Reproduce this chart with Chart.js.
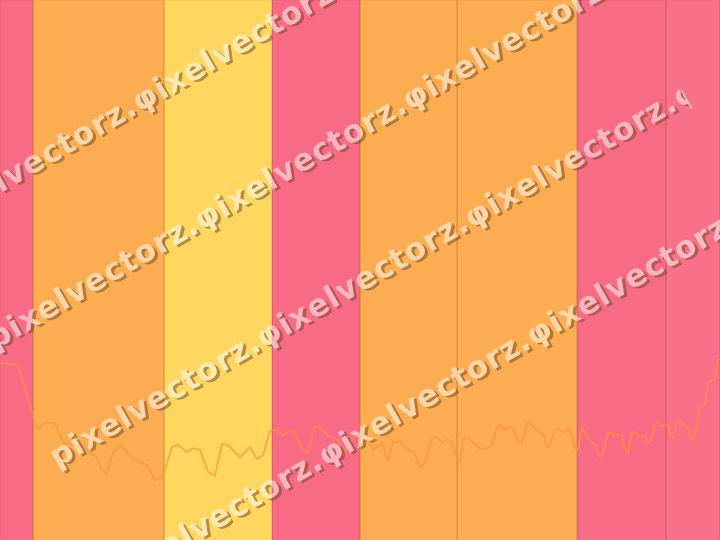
<!DOCTYPE html>
<html>
<head>
<meta charset="utf-8">
<script src="https://cdn.jsdelivr.net/npm/chart.js@4"></script>
<style>
  html, body { margin: 0; padding: 0; background: #fff; }
  canvas { display: block; }
</style>
</head>
<body>
<canvas id="chart" width="720" height="540"></canvas>
<script>
// day index of each sample and the value on that day
const days = [0, 3.5, 9, 18.5, 22.5, 27.5, 31.5, 36, 41.5, 48.5, 50.5, 53.5, 56.5, 60.5, 65.5, 70, 73.5, 77.5, 81.5, 86,
  89, 93.5, 96.5, 100, 104, 107.5, 111, 114, 117.5, 120, 125, 128.5, 131.5, 135, 137.5, 141.5, 145, 147.5, 151, 154,
  157, 159.5, 163.5, 166.5, 169, 171.5, 177.5, 180, 183.5, 186.5, 191, 194, 196.5, 200, 203.5, 207, 210, 212.5, 216, 218.5,
  221, 223.5, 226, 228.5, 230, 231.5, 234, 236.5, 240, 243.5, 246, 248.5, 250, 252.5, 255, 256.5, 259, 261, 263.5, 265,
  267.5, 269, 271.5, 273.5, 275, 277.5, 279, 281.5, 283.5, 285.5, 287.5, 289, 291, 293.5, 296, 297.5, 300, 301.5, 304, 306,
  307.5, 309, 311, 312.5, 314, 316, 317.5, 320, 322.5, 324, 326, 327.5, 329, 331, 332.5, 334, 335.5, 336.5, 338.5, 340,
  342.5, 344, 346, 347.5, 350, 352.5, 354, 356, 357.5, 358.5, 360];
const values = [32.8, 32.6, 32.4, 20.6, 21.7, 21.7, 18.0, 17.6, 17.4, 15.2, 13.3, 12.2, 16.3, 17.6, 15.4, 14.4, 13.9, 11.1, 11.9, 17.2,
  17.6, 16.3, 17.0, 16.7, 12.6, 11.9, 17.8, 17.6, 16.3, 15.4, 17.2, 15.0, 15.7, 20.2, 20.4, 19.3, 20.2, 19.8, 17.0, 16.1,
  20.9, 21.1, 19.4, 18.9, 18.7, 15.6, 19.6, 20.0, 19.1, 16.7, 18.0, 14.8, 18.1, 18.3, 16.7, 16.3, 13.5, 14.3, 18.9, 19.1,
  18.0, 18.7, 18.1, 15.2, 14.3, 18.5, 19.1, 18.0, 16.9, 17.0, 17.6, 20.9, 21.3, 20.4, 20.9, 20.7, 18.1, 18.0, 21.7, 21.9,
  20.7, 20.0, 19.8, 17.2, 17.6, 20.4, 20.7, 19.8, 20.6, 20.0, 17.0, 16.7, 20.9, 19.1, 18.1, 17.6, 15.4, 16.1, 19.8, 19.8,
  19.1, 19.6, 19.3, 16.7, 16.1, 19.8, 20.0, 18.9, 19.4, 18.1, 18.7, 21.7, 21.7, 20.9, 21.5, 21.3, 19.4, 18.9, 22.0, 22.2,
  20.9, 20.7, 18.5, 19.1, 24.8, 25.2, 29.1, 29.6, 29.6, 33.3, 33.5];

// shaded periods behind the series
const bandStart = [0, 16.5, 82, 136, 180, 228.5, 288.5, 333];
const bandEnd = [16.5, 82, 136, 180, 228.5, 288.5, 333, 360];
const bandRegime = ['high', 'mid', 'low', 'high', 'mid', 'mid', 'high', 'high2'];

const regimeColor = {
  high: '#f86b84',
  high2: '#f97188',
  mid: '#fdad51',
  low: '#fed660'
};

const bandSets = bandStart.map((s, i) => ({
  type: 'line',
  data: [{x: s, y: 0}, {x: s, y: 100}, {x: bandEnd[i], y: 100}, {x: bandEnd[i], y: 0}],
  backgroundColor: regimeColor[bandRegime[i]],
  borderColor: 'rgba(120, 60, 20, 0.1)',
  borderWidth: 1,
  pointRadius: 0,
  fill: 'origin',
  tension: 0,
  order: 2
}));

// repeated diagonal watermark, each row cut just after the third word
const watermark = {
  id: 'watermark',
  afterDraw(chart) {
    const ctx = chart.ctx;
    const off = document.createElement('canvas');
    off.width = chart.width;
    off.height = chart.height;
    const o = off.getContext('2d');
    const word = 'pixelvectorz.';
    const text = word + 'φixelvectorz.'.repeat(4);
    const ang = -30 * Math.PI / 180;
    o.font = 'bold 31px "DejaVu Sans"';
    o.letterSpacing = '1px';
    o.textBaseline = 'alphabetic';
    const cut = o.measureText(word + 'φixelvectorz.'.repeat(2)).width + o.measureText('φ').width * 0.45;
    for (let k = -2; k <= 1; k++) {
      const x0 = 57 + k * 62;
      const y0 = 468 + k * 118;
      o.save();
      o.translate(x0, y0);
      o.rotate(ang);
      o.beginPath();
      o.rect(-10, -60, cut + 10, 100);
      o.clip();
      o.fillStyle = 'rgb(110, 70, 30)';
      o.fillText(text, 2, 3);
      o.fillStyle = '#ffffff';
      o.fillText(text, 0, 0);
      o.restore();
    }
    ctx.save();
    ctx.globalAlpha = 0.5;
    ctx.drawImage(off, 0, 0);
    ctx.restore();
  }
};

new Chart(document.getElementById('chart'), {
  type: 'line',
  data: {
    datasets: [{
      data: days.map((d, i) => ({x: d, y: values[i]})),
      borderColor: 'rgba(255, 145, 60, 0.7)',
      borderWidth: 1.8,
      pointRadius: 0,
      fill: false,
      tension: 0,
      order: 0
    }, ...bandSets]
  },
  options: {
    responsive: false,
    animation: false,
    layout: { padding: 0 },
    plugins: {
      legend: { display: false },
      tooltip: { enabled: false }
    },
    scales: {
      x: { type: 'linear', min: 0, max: 360, display: false },
      y: { min: 0, max: 100, display: false }
    }
  },
  plugins: [watermark]
});
</script>
</body>
</html>
